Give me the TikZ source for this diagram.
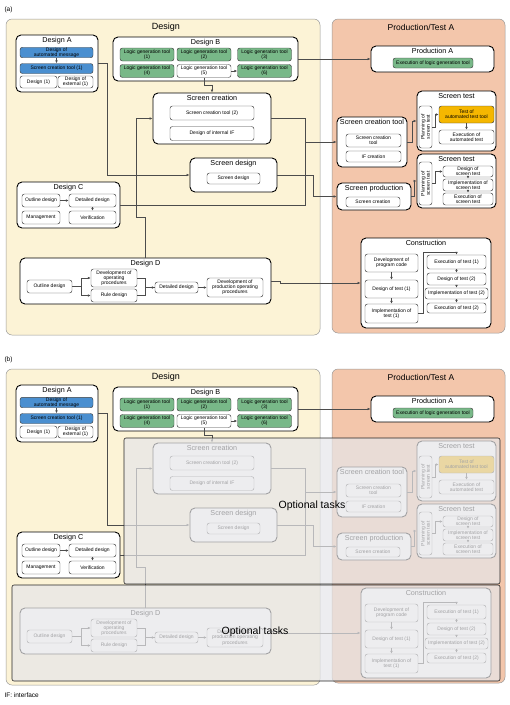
\documentclass[tikz,border=0pt]{standalone}
\usepackage{fontspec}
\setmainfont{Liberation Sans}
\usetikzlibrary{arrows.meta}

\definecolor{designbg}{HTML}{FCF3D6}
\definecolor{prodbg}{HTML}{F3C6AB}
\definecolor{toolblue}{HTML}{4A8FD0}
\definecolor{toolgreen}{HTML}{78B888}
\definecolor{testyellow}{HTML}{F5B700}
\definecolor{optgray}{RGB}{230,230,233}

\tikzset{
    panel/.style={draw=black!40, line width=0.5pt, rounded corners=6pt},
    grp/.style={draw=black, line width=0.9pt, rounded corners=5pt, fill=white, inner sep=0pt},
    grptitle/.style={anchor=north, inner sep=0.5pt, yshift=-2pt, font=\fontsize{7.2}{8}\selectfont},
    sub/.style={draw=black!75, line width=0.45pt, rounded corners=2.5pt, fill=white, align=center,
        inner sep=0.3pt, font=\fontsize{5}{5.2}\selectfont},
    conn/.style={draw=black!70, line width=0.5pt, -{Latex[length=3pt,width=2.6pt]}},
    link/.style={draw=black!70, line width=0.5pt},
    optarea/.style={draw=black!85, line width=0.6pt, rounded corners=2pt, fill=optgray, fill opacity=0.7},
}

\begin{document}
\begin{tikzpicture}[x=1pt,y=-1pt]
    \useasboundingbox (0,0) rectangle (510,705);
    \foreach \pn/\dy in {a/0,b/350}{%
    \begin{scope}[shift={(0,\dy)}, name prefix=\pn-]
        % panels
        \draw [panel, fill=designbg] (6,19) rectangle (320,335);
        \draw [panel, fill=prodbg] (332,19) rectangle (505,333);
        \node (lbl) [anchor=west, font=\fontsize{6.5}{7}\selectfont] at (1,10) {(\pn)};
        \node (desT) [font=\fontsize{9}{10}\selectfont] at (166,27) {Design};
        \node (prodT) [font=\fontsize{8.5}{9}\selectfont] at (421,27) {Production/Test A};

        % Design A
        \node (dA) [grp, minimum width=82, minimum height=57] at (57,63.5) {};
        \node (dAt) [grptitle] at (dA.north) {Design A};
        \node (dAmsg) [sub, fill=toolblue, minimum width=73, minimum height=9] at (56.5,52.5) {Design of\\automated message};
        \node (dAsct) [sub, fill=toolblue, minimum width=73, minimum height=10] at (56.5,68.5) {Screen creation tool (1)};
        \node (dAdes) [sub, minimum width=37, minimum height=12] at (38.5,82) {Design (1)};
        \node (dAext) [sub, minimum width=35, minimum height=12] at (75.5,82) {Design of\\external (1)};
        \draw [conn] (dAmsg) -- (dAsct);

        % Design B
        \node (dB) [grp, minimum width=185, minimum height=44] at (205.5,59) {};
        \node (dBt) [grptitle] at (dB.north) {Design B};
        \foreach \i/\cx/\cy in {1/147/54.5, 2/204/54.5, 3/264.5/54.5, 4/147/71, 6/264.5/71}{%
            \node (lg\i) [sub, fill=toolgreen, minimum width=54, minimum height=13] at (\cx,\cy) {Logic generation tool\\(\i)};
        }
        \node (lg5) [sub, minimum width=54, minimum height=13] at (204,71) {Logic generation tool\\(5)};
        \draw [conn] (lg5) -- (lg6);

        % Screen creation
        \node (scr) [grp, minimum width=118, minimum height=51] at (212,118.5) {};
        \node (scrt) [grptitle] at (scr.north) {Screen creation};
        \node (sct2) [sub, minimum width=84, minimum height=14] at (212,113) {Screen creation tool (2)};
        \node (dif) [sub, minimum width=84, minimum height=14] at (212,133.5) {Design of internal IF};

        % Screen design
        \node (sdg) [grp, minimum width=87, minimum height=34] at (233.5,175) {};
        \node (sdgt) [grptitle] at (sdg.north) {Screen design};
        \node (sdgi) [sub, minimum width=53, minimum height=11] at (233.5,178.5) {Screen design};

        % Design C
        \node (dC) [grp, minimum width=103, minimum height=46] at (68.5,205) {};
        \node (dCt) [grptitle] at (dC.north) {Design C};
        \node (cod) [sub, minimum width=38, minimum height=13] at (41,200.5) {Outline design};
        \node (cdd) [sub, minimum width=47, minimum height=13] at (92.5,200.5) {Detailed design};
        \node (cmg) [sub, minimum width=38, minimum height=13] at (41,217.5) {Management};
        \node (cvf) [sub, minimum width=47, minimum height=13] at (92.5,217.5) {Verification};
        \draw [conn] (cod) -- (cdd);
        \draw [conn] (cdd) -- (cvf);

        % Design D
        \node (dD) [grp, minimum width=251, minimum height=46] at (145.5,281) {};
        \node (dDt) [grptitle] at (dD.north) {Design D};
        \node (dod) [sub, minimum width=45, minimum height=13] at (49.5,286.5) {Outline design};
        \node (dop) [sub, minimum width=46, minimum height=18] at (114,278) {Development of\\operating\\procedures};
        \node (drd) [sub, minimum width=46, minimum height=13] at (114,295.5) {Rule design};
        \node (ddd) [sub, minimum width=43, minimum height=11] at (176.5,287.5) {Detailed design};
        \node (dpp) [sub, minimum width=56, minimum height=19] at (235,287.5) {Development of\\production operating\\procedures};
        \draw [conn] (dod.east) -- ++(9,0) |- (dop.west);
        \draw [conn] (dod.east) -- ++(9,0) |- (drd.west);
        \draw [conn] (dop.east) -- ++(8,0) |- (ddd.west);
        \draw [link] (drd.east) -- ++(8,0) |- (ddd.west);
        \draw [conn] (ddd) -- (dpp);

        % Production A
        \node (pA) [grp, minimum width=123, minimum height=26] at (432.5,59) {};
        \node (pAt) [grptitle] at (pA.north) {Production A};
        \node (exlg) [sub, fill=toolgreen, minimum width=80, minimum height=10] at (433,63) {Execution of logic generation tool};

        % Screen test (automated)
        \node (st1) [grp, minimum width=79, minimum height=60] at (456.5,121) {};
        \node (st1t) [grptitle] at (st1.north) {Screen test};
        \node (pl1) [sub, rotate=90, minimum width=42, minimum height=13] at (425.5,127) {Planning of\\screen test};
        \node (tat) [sub, fill=testyellow, minimum width=55, minimum height=17] at (466.5,114.5) {Test of\\automated test tool};
        \node (eat) [sub, minimum width=55, minimum height=14] at (466.5,137) {Execution of\\automated test};
        \draw [conn] (pl1.south) -- ++(3,0) |- (tat.west);
        \draw [conn] (tat) -- (eat);

        % Screen creation tool
        \node (sctl) [grp, minimum width=70, minimum height=50] at (372,142) {};
        \node (sctlt) [grptitle] at (sctl.north) {Screen creation tool};
        \node (sct) [sub, minimum width=55, minimum height=13] at (373.5,140.5) {Screen creation\\tool};
        \node (ifc) [sub, minimum width=55, minimum height=11] at (373.5,156.5) {IF creation};
        \draw [conn] (sctl.east) -- ++(5,0) |- (st1.west);

        % Screen test (manual)
        \node (st2) [grp, minimum width=79, minimum height=54] at (456.5,181) {};
        \node (st2t) [grptitle] at (st2.north) {Screen test};
        \node (pl2) [sub, rotate=90, minimum width=43, minimum height=13] at (425.5,183.5) {Planning of\\screen test};
        \node (dst) [sub, minimum width=50, minimum height=11] at (468,171.5) {Design of\\screen test};
        \node (ist) [sub, minimum width=50, minimum height=12] at (468,185) {Implementation of\\screen test};
        \node (est) [sub, minimum width=50, minimum height=12] at (468,199) {Execution of\\screen test};
        \draw [conn] (pl2.south) -- ++(3,0) |- (dst.west);
        \draw [conn] (dst) -- (ist);
        \draw [conn] (ist) -- (est);

        % Screen production
        \node (spr) [grp, minimum width=74, minimum height=27] at (374,196.5) {};
        \node (sprt) [grptitle] at (spr.north) {Screen production};
        \node (spc) [sub, minimum width=54, minimum height=10] at (373,202) {Screen creation};
        \draw [conn] (spr.east) -- ++(3,0) |- (st2.west);

        % Construction
        \node (cons) [grp, minimum width=130, minimum height=90] at (426,283) {};
        \node (const) [grptitle] at (cons.north) {Construction};
        \node (dpc) [sub, minimum width=53, minimum height=18] at (391.5,263) {Development of\\program code};
        \node (dt1) [sub, minimum width=53, minimum height=18] at (391.5,289) {Design of test (1)};
        \node (it1) [sub, minimum width=53, minimum height=19] at (391.5,313.5) {Implementation of\\test (1)};
        \node (et1) [sub, minimum width=59, minimum height=14] at (456.5,262) {Execution of test (1)};
        \node (dt2) [sub, minimum width=59, minimum height=12] at (456.5,279) {Design of test (2)};
        \node (it2) [sub, minimum width=63, minimum height=11] at (456.5,293.5) {Implementation of test (2)};
        \node (et2) [sub, minimum width=59, minimum height=10] at (456.5,308) {Execution of test (2)};
        \draw [conn] (dpc) -- (dt1);
        \draw [conn] (dt1) -- (it1);
        \draw [conn] (it1.east) -- ++(5,0) -- ++(0,-61) -| (et1.north);
        \draw [conn] (et1) -- (dt2);
        \draw [conn] (dt2) -- (it2);
        \draw [conn] (it2) -- (et2);

        % links between groups
        \coordinate (jn) at (305,142);
        \draw [conn] (dB.east) -- (pA.west);
        \draw [conn] (lg5.south) -- ++(0,8) -| (scr.north);
        \draw [conn] (dA.east) -- ++(9,0) |- (sdg.west);
        \draw [conn] (dD.north) -- ++(0,-40) -- ++(-9,0) |- (scr.west);
        \draw [conn] (scr.east) -| (jn) -- (sctl.west);
        \draw [link] (dC.east) -| (jn);
        \draw [conn] (sdg.east) -- ++(36,0) |- (spr.west);
        \draw [conn] (dD.east) -- ++(9,0) |- (cons.west);
    \end{scope}
    }

    % optional tasks in (b)
    \draw [optarea] (124,438) rectangle (500,584);
    \draw [optarea] (12,585) rectangle (500,681);
    \node (opt1) [font=\fontsize{10.5}{12}\selectfont] at (312,506) {Optional tasks};
    \node (opt2) [font=\fontsize{10.5}{12}\selectfont] at (255,632) {Optional tasks};
    \node (note) [anchor=west, font=\fontsize{6.5}{7}\selectfont] at (1,695) {IF: interface};
\end{tikzpicture}
\end{document}
